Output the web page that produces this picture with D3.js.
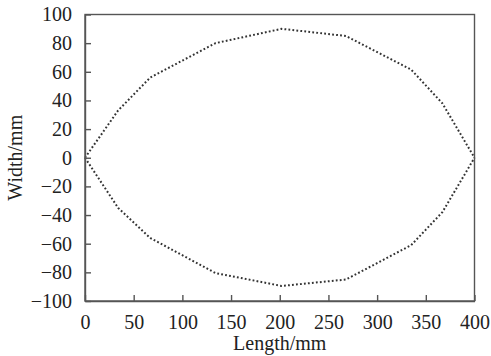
<!DOCTYPE html>
<html>
<head>
<meta charset="utf-8">
<script src="https://cdn.jsdelivr.net/npm/d3@7"></script>
<style>
  body { margin: 0; background: #fff; }
  svg text { font-family: "Liberation Serif", "Times New Roman", serif; fill: #222; }
</style>
</head>
<body>
<svg id="chart" width="491" height="356"></svg>
<script>
// outline of the part
var lengthMm = [0, 34, 67, 134, 202, 268, 335, 367, 400];
var upperWidth = [0, 33, 56, 80, 90, 85, 61.5, 38, 0];
var lowerWidth = [0, -35, -56, -80.5, -89.5, -85, -61, -38, 0];
var xTicks = [0, 50, 100, 150, 200, 250, 300, 350, 400];
var yTicks = [-100, -80, -60, -40, -20, 0, 20, 40, 60, 80, 100];

var svg = d3.select("#chart");
var margin = {top: 14.5, right: 16.5, bottom: 55, left: 85};
var width = 491 - margin.left - margin.right,
    height = 356 - margin.top - margin.bottom;
var g = svg.append("g").attr("transform", "translate(" + margin.left + "," + margin.top + ")");

var x = d3.scaleLinear().domain([0, 400]).range([0, width]);
var y = d3.scaleLinear().domain([-100, 100]).range([height, 0]);

var xAxis = d3.axisBottom(x).tickValues(xTicks).tickSizeInner(-6).tickSizeOuter(0).tickPadding(14);
var yAxis = d3.axisLeft(y).tickValues(yTicks).tickSizeInner(-6).tickSizeOuter(0).tickPadding(13)
  .tickFormat(function (d) { return d < 0 ? "\u2212" + Math.abs(d) : d; });

var line = d3.line()
  .x(function (d) { return x(d[0]) })
  .y(function (d) { return y(d[1]) });

var upper = lengthMm.map(function (v, i) { return [v, upperWidth[i]] });
var lower = lengthMm.map(function (v, i) { return [v, lowerWidth[i]] });

[upper, lower].forEach(function (pts) {
  g.append("path")
    .datum(pts)
    .attr("fill", "none")
    .attr("stroke", "#333")
    .attr("stroke-width", 2)
    .attr("stroke-dasharray", "1.8 2.2")
    .attr("d", line);
});

// frame
g.append("rect")
  .attr("width", width).attr("height", height)
  .attr("fill", "none").attr("stroke", "#555").attr("stroke-width", 1.4);

var gx = g.append("g")
  .attr("transform", "translate(0," + height + ")")
  .call(xAxis);
var gy = g.append("g").call(yAxis);

[gx, gy].forEach(function (a) {
  a.select(".domain").attr("stroke", "#555").attr("stroke-width", 1.4);
  a.selectAll(".tick line").attr("stroke", "#555").attr("stroke-width", 1.4);
  a.selectAll(".tick text")
    .style("font-family", "'Liberation Serif', serif")
    .style("font-size", "20px")
    .attr("fill", "#222");
});

svg.append("text")
  .attr("x", margin.left + width / 2)
  .attr("y", 350)
  .attr("text-anchor", "middle")
  .style("font-size", "20px")
  .text("Length/mm");

svg.append("text")
  .attr("transform", "translate(22," + (margin.top + height / 2) + ") rotate(-90)")
  .attr("text-anchor", "middle")
  .style("font-size", "20px")
  .text("Width/mm");
</script>
</body>
</html>
